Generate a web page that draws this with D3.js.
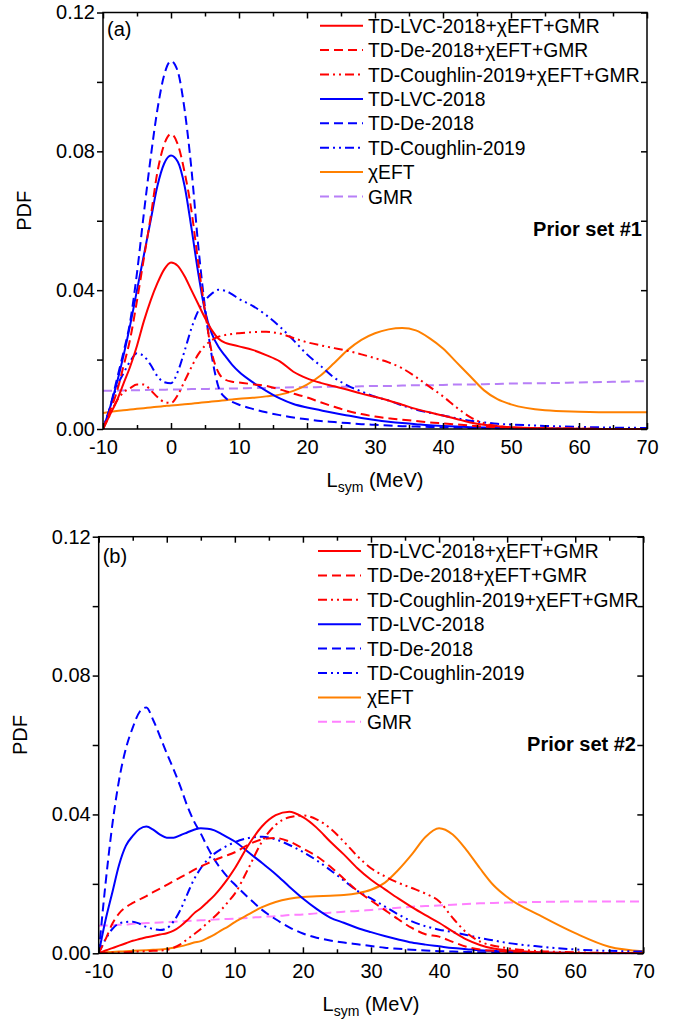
<!DOCTYPE html>
<html>
<head>
<meta charset="utf-8">
<script src="https://cdn.jsdelivr.net/npm/d3@7/dist/d3.min.js"></script>
<style>
  html, body { margin: 0; padding: 0; background: #fff; }
  svg { display: block; font-family: "Liberation Sans", Arial, sans-serif; }
</style>
</head>
<body>
<svg id="chart" width="689" height="1025"></svg>
<script>
// ---------------- DATA ----------------
const Lsym = [-10,-9,-8,-7,-6,-5,-4,-3,-2,-1,0,1,2,3,4,5,6,7,8,9,10,
  12,14,16,18,20,22,24,26,28,30,32,34,36,38,40,42,44,46,48,50,55,60,65,70];

const seriesNames = [
  "TD-LVC-2018+\u03c7EFT+GMR",
  "TD-De-2018+\u03c7EFT+GMR",
  "TD-Coughlin-2019+\u03c7EFT+GMR",
  "TD-LVC-2018",
  "TD-De-2018",
  "TD-Coughlin-2019",
  "\u03c7EFT",
  "GMR"
];

const xTicks = [-10,0,10,20,30,40,50,60,70];
const xTickLabels = ["-10","0","10","20","30","40","50","60","70"];
const yTicks = [0.00,0.04,0.08,0.12];
const yTickLabels = ["0.00","0.04","0.08","0.12"];
const panelLabels = ["(a)","(b)"];
const priorLabels = ["Prior set #1","Prior set #2"];

// Panel (a): Prior set #1
const a_LVC_EFT_GMR = [0,0.004,0.008,0.013,0.018,0.024,0.031,0.037,0.042,0.046,0.048,0.047,0.044,0.040,0.036,0.032,0.0285,0.026,0.0248,0.0243,0.0238,
  0.0228,0.0213,0.0195,0.0165,0.0146,0.0133,0.0123,0.0113,0.0102,0.0093,0.0082,0.0070,0.0058,0.0048,0.0039,0.0029,0.0019,0.0012,0.0008,0.0005,0.0002,0.0001,0,0];
const a_De_EFT_GMR = [0,0.005,0.0105,0.018,0.026,0.037,0.049,0.061,0.074,0.082,0.085,0.082,0.074,0.063,0.048,0.034,0.022,0.0162,0.0142,0.0136,0.0134,
  0.0129,0.0124,0.0114,0.0102,0.0091,0.0077,0.0064,0.0052,0.0043,0.0036,0.0031,0.0027,0.0023,0.0019,0.0016,0.0013,0.0010,0.0007,0.0005,0.0003,0.0001,0,0,0];
const a_Cou_EFT_GMR = [0,0.004,0.008,0.0105,0.0118,0.0128,0.0128,0.0112,0.0092,0.0078,0.0075,0.0098,0.0138,0.0178,0.0215,0.0240,0.0256,0.0266,0.0271,0.0274,0.0276,
  0.0279,0.0280,0.0275,0.0262,0.0250,0.0241,0.0233,0.0225,0.0215,0.0204,0.0192,0.0175,0.0150,0.0122,0.0094,0.0062,0.0034,0.0017,0.0009,0.0005,0.0002,0.0001,0,0];
const a_LVC = [0,0.006,0.013,0.021,0.030,0.040,0.050,0.060,0.070,0.0765,0.0788,0.077,0.070,0.058,0.045,0.034,0.0275,0.0236,0.021,0.0185,0.0165,
  0.0135,0.011,0.0088,0.0072,0.0062,0.0054,0.0046,0.0039,0.0032,0.0026,0.0021,0.0017,0.0014,0.0011,0.0009,0.0007,0.0005,0.0004,0.0003,0.0002,0.0001,0,0,0];
const a_De = [0,0.006,0.014,0.022,0.031,0.045,0.062,0.078,0.092,0.102,0.106,0.103,0.092,0.075,0.053,0.035,0.021,0.012,0.009,0.0078,0.007,
  0.0058,0.0048,0.004,0.0033,0.0028,0.0023,0.002,0.0017,0.0014,0.0012,0.001,0.0008,0.0007,0.0006,0.0005,0.0004,0.0003,0.0003,0.0002,0.0002,0.0001,0,0,0];
const a_Cou = [0,0.006,0.012,0.016,0.0195,0.0218,0.021,0.0185,0.0152,0.0135,0.0132,0.0165,0.0225,0.029,0.034,0.037,0.039,0.0401,0.0398,0.0388,0.0375,
  0.0355,0.0328,0.0295,0.0256,0.0215,0.0182,0.0148,0.0125,0.0108,0.0093,0.0082,0.0068,0.0056,0.0047,0.0039,0.0031,0.0024,0.0019,0.0015,0.0013,0.0009,0.0006,0.0004,0.0003];
const a_EFT = [0.0046,0.0049,0.0052,0.0054,0.0056,0.0058,0.006,0.0062,0.0064,0.0066,0.0068,0.0069,0.0071,0.0073,0.0075,0.0077,0.0079,0.0081,0.0083,0.0085,0.0087,
  0.0090,0.0094,0.0099,0.0110,0.0128,0.0154,0.0190,0.0228,0.0257,0.0276,0.0287,0.0291,0.0284,0.0262,0.0232,0.0192,0.0152,0.0112,0.0086,0.0071,0.0054,0.0050,0.0048,0.0048];
const a_GMR = [0.0110,0.0110,0.0111,0.0111,0.0112,0.0112,0.0112,0.0113,0.0113,0.0113,0.0114,0.0114,0.0114,0.0115,0.0115,0.0115,0.0116,0.0116,0.0116,0.0117,0.0117,
  0.0118,0.0118,0.0119,0.0120,0.0120,0.0121,0.0122,0.0122,0.0123,0.0124,0.0124,0.0125,0.0126,0.0126,0.0127,0.0128,0.0128,0.0129,0.0130,0.0131,0.0132,0.0134,0.0136,0.0138];

// Panel (b): Prior set #2
const b_LVC_EFT_GMR = [0,0.0008,0.0015,0.0022,0.0029,0.0036,0.0041,0.0046,0.0050,0.0054,0.0058,0.0065,0.0078,0.0095,0.0115,0.0130,0.0148,0.0167,0.0190,0.0216,0.0245,
  0.0312,0.0366,0.0398,0.0408,0.0392,0.0362,0.0322,0.0285,0.0245,0.0212,0.0185,0.0158,0.0133,0.0110,0.0088,0.0063,0.0040,0.0024,0.0014,0.0009,0.0003,0.0001,0,0];
const b_De_EFT_GMR = [0,0.0040,0.0085,0.0115,0.0133,0.0145,0.0155,0.0165,0.0176,0.0186,0.0197,0.0208,0.0219,0.0229,0.0240,0.0250,0.0259,0.0268,0.0276,0.0283,0.0291,
  0.0313,0.0328,0.0332,0.0322,0.0302,0.0280,0.0250,0.0215,0.0180,0.0152,0.0125,0.0098,0.0073,0.0055,0.0048,0.0033,0.0019,0.0011,0.0007,0.0004,0.0001,0,0,0];
const b_Cou_EFT_GMR = [0,0.0001,0.0002,0.0002,0.0003,0.0004,0.0005,0.0006,0.0007,0.0008,0.0010,0.0016,0.0026,0.0040,0.0055,0.0070,0.0088,0.0105,0.0125,0.0148,0.0172,
  0.0245,0.0322,0.0370,0.0392,0.0397,0.0386,0.0360,0.0322,0.0280,0.0245,0.0222,0.0203,0.0188,0.0172,0.0150,0.0102,0.0060,0.0034,0.0022,0.0015,0.0006,0.0003,0.0001,0.0001];
const b_LVC = [0,0.0095,0.0175,0.0255,0.031,0.0338,0.0358,0.0365,0.0356,0.0342,0.0333,0.0333,0.0340,0.0348,0.0356,0.0360,0.0359,0.0354,0.0344,0.0333,0.0322,
  0.0291,0.0260,0.0228,0.0192,0.0158,0.0128,0.0103,0.0088,0.0073,0.0061,0.0050,0.0040,0.0031,0.0025,0.0020,0.0015,0.0012,0.0009,0.0007,0.0005,0.0002,0.0001,0,0];
const b_De = [0,0.020,0.037,0.050,0.059,0.065,0.0695,0.0708,0.0672,0.0625,0.0576,0.053,0.048,0.0425,0.038,0.0345,0.0305,0.027,0.0242,0.0218,0.0198,
  0.0160,0.0125,0.0098,0.0075,0.0057,0.0045,0.0037,0.0031,0.0026,0.0021,0.0016,0.0013,0.0010,0.0008,0.0006,0.0005,0.0004,0.0003,0.0003,0.0002,0.0001,0.0001,0,0];
const b_Cou = [0,0.004,0.007,0.0086,0.009,0.0091,0.0085,0.0076,0.0070,0.0067,0.0072,0.0092,0.0125,0.0170,0.0213,0.0245,0.0270,0.0287,0.0300,0.0311,0.0320,
  0.0332,0.0336,0.0328,0.0312,0.0292,0.0268,0.0240,0.0210,0.0180,0.0158,0.0135,0.0112,0.0092,0.0078,0.0068,0.0061,0.0053,0.0044,0.0037,0.0030,0.0019,0.0011,0.0007,0.0005];
const b_EFT = [0.0002,0.0003,0.0004,0.0005,0.0006,0.0007,0.0008,0.0009,0.0010,0.0011,0.0013,0.0016,0.0020,0.0025,0.0031,0.0035,0.0044,0.0054,0.0066,0.0077,0.0090,
  0.0112,0.0133,0.0148,0.0157,0.0162,0.0164,0.0166,0.0168,0.0173,0.0183,0.0203,0.0240,0.0285,0.0335,0.0360,0.0342,0.0298,0.0245,0.0196,0.0162,0.0107,0.0058,0.0019,0.0006];
const b_GMR = [0.0079,0.0080,0.0081,0.0082,0.0083,0.0085,0.0086,0.0087,0.0088,0.0089,0.0090,0.0091,0.0092,0.0093,0.0094,0.0095,0.0096,0.0097,0.0098,0.0099,0.0100,
  0.0102,0.0105,0.0107,0.0110,0.0112,0.0115,0.0117,0.0120,0.0122,0.0125,0.0128,0.0131,0.0134,0.0136,0.0138,0.0140,0.0142,0.0144,0.0145,0.0146,0.0148,0.0149,0.0149,0.0149];

const panelAData = [a_LVC_EFT_GMR, a_De_EFT_GMR, a_Cou_EFT_GMR, a_LVC, a_De, a_Cou, a_EFT, a_GMR];
const panelBData = [b_LVC_EFT_GMR, b_De_EFT_GMR, b_Cou_EFT_GMR, b_LVC, b_De, b_Cou, b_EFT, b_GMR];

// ---------------- STYLES ----------------
const DASH = "9,5";
const DASHDOTDOT = "9,4,2,4,2,4";
function styleFor(i, panel) {
  const gmrColor = panel === 0 ? "#b77ff7" : "#ff80ff";
  const styles = [
    {c:"#ff0000", d:null}, {c:"#ff0000", d:DASH}, {c:"#ff0000", d:DASHDOTDOT},
    {c:"#0000ff", d:null}, {c:"#0000ff", d:DASH}, {c:"#0000ff", d:DASHDOTDOT},
    {c:"#ff8000", d:null}, {c:gmrColor, d:DASH}
  ];
  return styles[i];
}

// ---------------- DRAW ----------------
const svg = d3.select("#chart");
const FONT = 20;

const panels = [
  {left:103, top:12.5, right:647, bottom:429, data:panelAData, legendTop:25.7, lineX0:320, textX:368, priorX:642, priorY:236, labY:36},
  {left:98.7, top:536.7, right:643.3, bottom:953.3, data:panelBData, legendTop:551, lineX0:318, textX:367, priorX:636, priorY:751, labY:563}
];

panels.forEach((p, pi) => {
  const x = d3.scaleLinear().domain([-10, 70]).range([p.left, p.right]);
  const y = d3.scaleLinear().domain([0, 0.12]).range([p.bottom, p.top]);
  const g = svg.append("g");

  const line = d3.line()
    .x((d, i) => x(Lsym[i]))
    .y(d => y(d))
    .curve(d3.curveMonotoneX);

  const clipId = "clip" + pi;
  svg.append("clipPath").attr("id", clipId).append("rect")
    .attr("x", p.left).attr("y", p.top).attr("width", p.right - p.left).attr("height", p.bottom - p.top + 1);

  const curves = g.append("g").attr("clip-path", `url(#${clipId})`);
  for (let i = p.data.length - 1; i >= 0; i--) {
    const s = styleFor(i, pi);
    curves.append("path")
      .datum(p.data[i])
      .attr("d", line)
      .attr("fill", "none")
      .attr("stroke", s.c)
      .attr("stroke-width", 2)
      .attr("stroke-dasharray", s.d);
  }

  const axisStyle = sel => {
    sel.select(".domain").remove();
    sel.selectAll("line").attr("stroke", "#000").attr("stroke-width", 1.5);
    sel.selectAll("text").attr("font-size", FONT).attr("fill", "#000")
      .attr("font-family", '"Liberation Sans", Arial, sans-serif');
  };

  const xMinor = d3.range(-5, 70, 10);
  const yMinor = [0.02, 0.06, 0.10];

  g.append("g").attr("transform", `translate(0,${p.bottom})`)
    .call(d3.axisBottom(x).tickValues(xTicks).tickSize(-6).tickPadding(11).tickFormat((d, i) => xTickLabels[i]))
    .call(axisStyle);
  g.append("g").attr("transform", `translate(0,${p.bottom})`)
    .call(d3.axisBottom(x).tickValues(xMinor).tickSize(-4).tickFormat(""))
    .call(axisStyle);
  g.append("g").attr("transform", `translate(0,${p.top})`)
    .call(d3.axisTop(x).tickValues(xTicks).tickSize(-6).tickFormat(""))
    .call(axisStyle);
  g.append("g").attr("transform", `translate(0,${p.top})`)
    .call(d3.axisTop(x).tickValues(xMinor).tickSize(-4).tickFormat(""))
    .call(axisStyle);
  g.append("g").attr("transform", `translate(${p.left},0)`)
    .call(d3.axisLeft(y).tickValues(yTicks).tickSize(6).tickPadding(2).tickFormat((d, i) => yTickLabels[i]))
    .call(axisStyle);
  g.append("g").attr("transform", `translate(${p.left},0)`)
    .call(d3.axisLeft(y).tickValues(yMinor).tickSize(6).tickFormat(""))
    .call(axisStyle);
  g.append("g").attr("transform", `translate(${p.right},0)`)
    .call(d3.axisRight(y).tickValues(yTicks.concat(yMinor)).tickSize(-6).tickFormat(""))
    .call(axisStyle);

  g.append("rect")
    .attr("x", p.left).attr("y", p.top)
    .attr("width", p.right - p.left).attr("height", p.bottom - p.top)
    .attr("fill", "none").attr("stroke", "#000").attr("stroke-width", 1.5);

  const xt = g.append("text")
    .attr("x", (p.left + p.right) / 2).attr("y", p.bottom + 58)
    .attr("text-anchor", "middle").attr("font-size", FONT);
  xt.append("tspan").text("L");
  xt.append("tspan").attr("font-size", 14).attr("dy", 5).text("sym");
  xt.append("tspan").attr("dy", -5).text(" (MeV)");

  const yc = (p.top + p.bottom) / 2 - 10;
  g.append("text")
    .attr("transform", `translate(${p.left - 72},${yc}) rotate(-90)`)
    .attr("text-anchor", "middle").attr("font-size", FONT).text("PDF");

  g.append("text").attr("x", p.left + 4).attr("y", p.labY)
    .attr("font-size", FONT).text(panelLabels[pi]);

  g.append("text").attr("x", p.priorX).attr("y", p.priorY)
    .attr("text-anchor", "end").attr("font-size", FONT).attr("font-weight", "bold")
    .text(priorLabels[pi]);

  const rowH = 24.4;
  seriesNames.forEach((name, i) => {
    const s = styleFor(i, pi);
    const ly = p.legendTop + i * rowH;
    g.append("line")
      .attr("x1", p.lineX0).attr("x2", p.lineX0 + 43)
      .attr("y1", ly).attr("y2", ly)
      .attr("stroke", s.c).attr("stroke-width", 2)
      .attr("stroke-dasharray", s.d);
    g.append("text")
      .attr("x", p.textX).attr("y", ly + 7)
      .attr("font-size", 19.3).text(name);
  });
});
</script>
</body>
</html>
